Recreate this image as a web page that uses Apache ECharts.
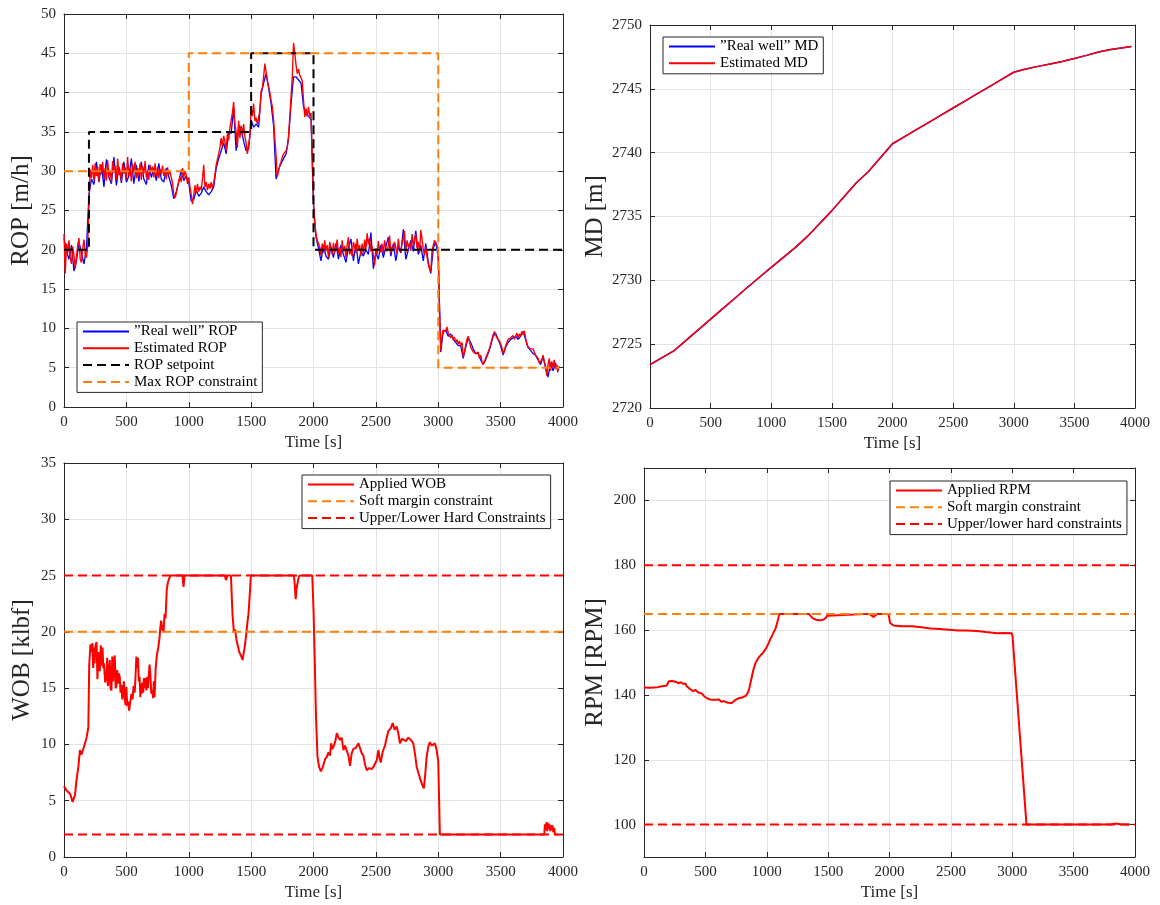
<!DOCTYPE html>
<html><head><meta charset="utf-8">
<script src="https://cdn.jsdelivr.net/npm/echarts@6/dist/echarts.min.js"></script>
<style>html,body{margin:0;padding:0;background:#fff}#c{width:1160px;height:905px}</style>
</head><body><div id="c"></div><script>
// ---------------- DATA ----------------
// ROP estimated (red), sampled every 10 s from t = 0
const ROP_EST_DT = 10;
const ropEst = [
22.0,17.0,20.8,19.6,21.2,19.0,18.2,20.4,19.3,17.6,
19.2,20.6,21.5,18.8,18.4,20.2,21.3,19.4,19.0,20.5,
26.0,30.2,29.1,30.8,28.9,31.0,29.4,30.6,28.7,30.9,
29.6,31.2,29.0,30.4,28.8,31.4,29.3,30.1,28.6,31.3,
29.8,30.7,28.9,31.6,29.5,30.2,28.8,31.0,29.7,30.5,
29.0,31.8,29.4,30.3,28.7,30.9,29.8,31.2,29.1,30.4,
29.5,31.0,28.9,30.6,29.7,31.3,29.2,30.0,28.9,30.8,
29.9,30.6,29.2,31.0,29.4,30.5,29.1,30.3,29.6,30.7,
29.4,30.2,29.0,30.5,29.6,29.9,29.2,28.5,27.0,26.6,
27.2,28.0,28.8,29.3,28.6,30.4,29.2,30.0,29.5,28.4,
29.2,28.0,27.0,25.8,27.0,28.2,27.2,28.4,27.4,28.0,
27.6,29.0,30.8,28.0,28.6,27.6,28.4,27.8,28.6,27.8,
28.5,29.6,30.8,31.5,32.2,33.0,34.2,33.2,34.5,33.8,
32.6,34.8,33.9,35.5,36.5,37.5,38.8,36.0,35.0,33.0,
36.4,34.2,35.8,34.6,36.0,34.4,33.6,32.2,33.4,34.4,
38.0,37.0,38.6,36.4,36.8,36.0,36.2,37.6,40.2,40.6,
42.0,43.7,42.6,41.6,40.8,40.0,39.0,38.2,36.5,34.2,
32.0,29.3,30.0,30.8,31.2,31.8,32.2,32.0,32.6,33.0,
34.5,36.9,39.5,42.0,46.3,45.0,43.5,42.4,43.0,42.2,
42.0,41.5,39.0,36.9,38.0,37.0,38.2,37.0,37.4,32.0,
26.0,23.5,22.0,21.2,21.0,20.4,19.3,20.8,19.6,21.2,
19.8,20.6,19.0,21.0,20.2,19.4,20.9,19.6,20.4,21.3,
19.5,20.3,19.1,21.2,19.8,20.5,19.0,20.7,21.6,19.4,
20.1,19.2,21.0,20.3,19.6,21.4,19.9,20.6,19.2,20.8,
19.5,21.3,20.0,22.1,20.7,21.5,19.8,20.4,19.3,18.0,
20.2,19.4,21.1,20.0,19.7,20.8,19.5,21.2,20.3,19.8,
20.6,21.8,19.6,20.4,19.9,21.0,20.2,19.5,21.4,20.1,
19.7,20.9,21.5,22.4,19.6,21.2,20.4,20.8,19.9,22.0,
20.5,21.3,22.0,20.2,21.0,19.6,22.5,21.4,20.0,19.4,
20.3,19.1,18.2,17.6,17.2,19.8,20.6,21.2,21.0,20.5,
20.0,12.5,7.2,9.0,9.8,10.0,9.6,10.2,9.4,9.2,
8.8,9.2,8.6,8.9,8.2,8.6,8.0,8.4,7.8,8.2,
6.4,7.0,7.8,8.6,9.0,8.4,7.6,7.8,7.0,7.2,
6.8,6.6,7.0,6.2,6.6,5.8,5.4,5.6,6.2,6.6,
7.0,7.4,8.0,8.6,9.2,9.6,9.2,8.8,9.0,8.4,
8.2,7.6,6.8,7.2,7.8,8.2,8.6,8.4,8.8,9.0,
9.1,8.6,9.0,9.4,8.8,9.3,9.0,9.6,9.2,9.7,
8.8,8.0,7.6,7.8,7.4,7.2,7.4,7.0,6.6,6.8,
6.2,5.6,5.5,6.0,6.6,5.8,5.2,4.0,5.4,6.2,
4.6,5.8,5.0,6.0,4.8,5.4,4.6,5.2
];
// ROP "real well" (blue), sampled every 20 s from t = 0
const ROP_REAL_DT = 20;
const ropReal = [
21.5,19.8,18.8,20.6,17.3,18.6,21.0,19.6,18.2,20.2,
27.0,29.0,28.3,31.2,28.6,30.8,28.0,31.5,29.2,28.4,
31.8,28.2,30.6,28.5,31.2,28.6,29.4,31.6,28.4,30.8,
28.7,31.2,29.0,28.3,30.8,29.2,30.4,28.8,31.0,29.0,
28.6,30.4,29.3,28.2,26.5,27.4,28.6,30.2,28.8,29.4,
28.5,26.2,26.4,27.6,26.8,27.2,28.0,27.4,27.0,27.4,
28.0,30.4,31.6,32.6,33.6,32.2,35.0,34.8,38.0,32.6,
35.8,35.4,33.8,32.6,32.8,36.5,35.6,36.0,35.6,39.8,
41.2,42.4,40.6,38.6,35.8,29.0,30.2,31.0,31.6,32.2,
34.2,38.6,42.0,42.0,41.6,41.2,38.2,37.2,37.0,36.6,
25.6,21.6,20.2,18.6,20.6,19.2,18.8,20.4,19.0,20.8,
18.8,20.6,19.4,18.4,20.2,21.4,18.6,20.8,18.2,19.8,
19.2,20.0,19.4,22.2,17.6,19.6,18.8,20.6,19.0,20.4,
21.6,19.2,20.8,18.6,20.4,19.6,22.6,18.8,20.0,21.2,
19.8,22.4,19.4,20.6,18.6,20.8,18.4,17.0,20.2,21.0,
19.0,7.0,9.6,9.8,9.0,9.3,8.6,8.2,7.8,7.8,
6.2,7.6,8.8,8.2,7.4,6.8,6.8,6.0,5.4,6.0,
6.8,7.8,9.0,9.4,8.6,7.8,6.6,7.6,8.2,8.6,
8.8,9.0,8.6,9.0,9.6,8.6,7.6,7.2,6.8,6.6,
6.0,5.4,6.4,5.0,3.8,5.6,4.6,5.6,4.4
];
const ropSetpointT = [0,200,200,1500,1500,2000,2000,4000];
const ropSetpointV = [20,20,35,35,45,45,20,20];
const ropMaxT = [0,1000,1000,3000,3000,3970];
const ropMaxV = [30,30,45,45,5,5];

// Measured depth
const mdT = [0,100,200,300,400,500,600,700,800,900,1000,1100,1200,1300,1400,1500,1600,1700,1800,1900,2000,
  2100,2200,2300,2400,2500,2600,2700,2800,2900,3000,3100,3200,3300,3400,3500,3600,3700,3800,3900,3970];
const mdReal = [2723.40,2723.95,2724.50,2725.32,2726.14,2726.96,2727.78,2728.60,2729.42,2730.22,2731.02,
  2731.80,2732.58,2733.46,2734.45,2735.46,2736.54,2737.62,2738.50,2739.60,2740.70,
  2741.26,2741.82,2742.38,2742.94,2743.50,2744.06,2744.62,2745.18,2745.74,2746.30,
  2746.55,2746.76,2746.95,2747.14,2747.38,2747.62,2747.88,2748.08,2748.22,2748.32];
const mdEst = [2723.40,2723.95,2724.50,2725.32,2726.14,2726.96,2727.78,2728.60,2729.42,2730.22,2731.02,
  2731.80,2732.58,2733.46,2734.45,2735.46,2736.54,2737.62,2738.50,2739.60,2740.70,
  2741.26,2741.82,2742.38,2742.94,2743.50,2744.06,2744.62,2745.18,2745.74,2746.30,
  2746.55,2746.76,2746.95,2747.14,2747.38,2747.62,2747.88,2748.08,2748.22,2748.32];

// Applied WOB
const wobT = [0,20,35,50,69,88,100,115,128,141,160,181,195,202,212,221,228,234,240,245,252,261,268,275,282,287,295,300,309,315,320,330,340,346,352,360,367,373,380,387,394,400,407,414,420,427,433,440,447,453,460,467,473,480,487,493,500,507,515,522,532,540,550,558,567,575,580,587,593,600,606,612,617,622,628,635,641,648,654,660,667,673,680,686,692,700,708,714,720,726,735,745,756,766,772,779,788,798,806,814,824,833,845,854,950,958,966,1290,1298,1310,1338,1351,1362,1372,1382,1391,1405,1418,1431,1445,1458,1470,1479,1490,1498,1843,1850,1857,1864,1870,1880,1889,1990,2000,2010,2020,2032,2045,2059,2075,2093,2107,2120,2132,2141,2150,2160,2173,2187,2200,2213,2226,2240,2253,2267,2280,2293,2306,2320,2340,2360,2374,2387,2400,2413,2427,2447,2467,2480,2493,2507,2520,2530,2539,2556,2573,2587,2600,2618,2635,2650,2667,2680,2693,2710,2725,2742,2760,2780,2800,2813,2827,2843,2859,2872,2885,2896,2907,2920,2933,2947,2960,2973,2987,3000,3013,3850,3855,3862,3868,3874,3880,3886,3892,3898,3904,3910,3916,3922,3930,3935,3960];
const wobV = [6.3,5.9,6.0,5.6,4.9,5.5,6.8,8.0,9.5,9.1,9.8,10.6,11.5,17.0,18.9,18.2,19.0,16.8,18.6,17.2,18.7,19.1,15.8,18.2,17.6,16.5,18.8,17.0,18.6,16.8,17.2,15.5,16.0,17.7,15.2,16.2,17.5,15.0,14.8,17.8,15.6,17.3,17.9,15.0,15.2,16.6,15.4,16.3,16.0,14.6,15.3,14.0,14.5,15.6,14.1,13.5,15.1,13.4,13.8,13.0,13.1,14.5,14.0,15.2,14.6,16.5,17.8,16.8,17.7,15.6,16.0,14.2,15.4,14.5,15.5,14.6,15.9,15.0,15.9,14.8,16.0,15.0,16.2,17.1,16.3,14.5,14.8,14.1,15.6,14.2,16.8,18.0,18.6,19.5,20.4,21.0,20.2,20.0,21.6,21.2,23.8,24.4,24.8,25.0,25.0,24.0,25.0,25.0,24.6,25.0,25.0,21.5,20.0,20.2,19.3,18.9,18.2,17.9,17.5,18.4,19.5,20.8,21.6,23.5,25.0,25.0,24.2,22.9,23.8,24.2,24.8,25.0,25.0,22.0,17.5,12.5,8.9,8.0,7.6,8.0,8.7,8.9,9.3,9.0,10.1,9.6,9.8,10.2,11.0,10.6,10.4,10.6,9.5,9.9,9.8,9.0,8.1,9.2,9.6,9.7,10.1,10.0,9.2,9.0,8.2,7.7,7.9,7.8,8.0,8.0,8.6,9.5,8.8,8.4,9.4,9.9,10.6,11.2,11.4,11.9,11.3,11.6,11.0,10.1,10.5,10.6,10.3,10.6,10.4,10.1,9.2,8.0,7.4,6.8,6.4,6.1,7.4,8.9,9.8,10.2,9.9,9.8,10.1,9.5,8.5,2.0,2.0,2.9,2.4,3.1,2.3,3.0,2.5,2.9,2.3,2.8,2.4,2.8,2.2,2.6,2.0,2.0];
const wobSoft = 20;
const wobHardUpper = 25;
const wobHardLower = 2;

// Applied RPM
const rpmT = [0,50,111,150,186,201,215,230,245,261,280,300,320,337,350,365,382,400,420,440,455,472,490,505,517,535,550,565,580,592,610,630,650,667,685,700,715,727,740,755,772,785,800,815,832,850,862,875,890,908,925,940,953,970,985,998,1015,1030,1043,1060,1073,1090,1103,1343,1355,1373,1400,1433,1460,1478,1492,1500,1839,1850,1869,1885,1899,1989,1996,2004,2020,2034,2100,2185,2260,2335,2410,2485,2560,2635,2710,2786,2840,2876,2930,2996,3002,3116,3800,3850,3880,3958];
const rpmV = [142.3,142.2,142.4,142.7,142.9,144.2,143.6,144.3,143.8,144.0,143.6,143.9,143.4,143.5,142.6,142.2,141.6,141.2,141.5,140.8,140.9,140.4,139.6,139.2,138.9,138.6,139.0,138.5,138.9,138.5,138.6,137.9,138.1,137.8,137.6,137.9,137.5,137.6,138.3,138.6,139.0,139.4,139.2,139.4,139.8,141.0,142.7,145.0,147.6,149.8,151.0,151.8,152.2,153.0,153.8,154.6,156.0,157.3,158.2,159.6,160.6,163.0,165.0,165.0,164.4,163.7,163.2,163.0,163.2,163.7,164.4,165.0,165.0,164.4,164.0,164.6,165.0,165.0,164.2,162.2,161.6,161.4,161.2,161.2,160.9,160.5,160.3,160.1,159.9,159.9,159.7,159.4,159.2,159.0,159.1,159.0,158.2,100.0,100.0,100.3,100.1,100.0];
const rpmSoft = 165;
const rpmHardUpper = 180;
const rpmHardLower = 100;

// Axis settings
const timeMin = 0, timeMax = 4000, timeStep = 500;

// ---------------- CHART ----------------
const FONT = 'Liberation Serif';
const AX = '#262626';
const GRIDC = '#e3e3e3';
const ORANGE = '#ff7f0e';
const DASH = [9, 5];
const plain = v => String(v);

function pairs(ts, vs){ return ts.map((t,i)=>[t, vs[i]]); }
function regular(dt, vs){ return vs.map((v,i)=>[i*dt, v]); }
function hline(v, t0, t1){ return [[t0, v],[t1, v]]; }

const grids = [
  {left:64, top:14, width:499, height:393},
  {left:650, top:25, width:485, height:383},
  {left:64, top:463, width:499, height:394},
  {left:644, top:468, width:491, height:389}
];

const xAxis = [], yAxis = [];
grids.forEach((g, gi)=>{
  xAxis.push({type:'value', gridIndex:gi, min:timeMin, max:timeMax, interval:timeStep, position:'bottom',
    name:'Time [s]', nameLocation:'middle', nameGap:27,
    nameTextStyle:{fontFamily:FONT, fontSize:17, color:AX},
    axisLine:{show:true, onZero:false, lineStyle:{color:AX, width:1}},
    axisTick:{show:true, inside:true, length:5, lineStyle:{color:AX}},
    axisLabel:{margin:8, fontFamily:FONT, fontSize:15, color:AX, formatter:plain},
    splitLine:{show:true, lineStyle:{color:GRIDC, width:1}}});
  xAxis.push({type:'value', gridIndex:gi, min:timeMin, max:timeMax, interval:timeStep, position:'top',
    axisLine:{show:true, onZero:false, lineStyle:{color:AX, width:1}},
    axisTick:{show:true, inside:true, length:5, lineStyle:{color:AX}},
    axisLabel:{show:false}, splitLine:{show:false}});
});

const yDefs = [
  {min:0, max:50, interval:5, name:'ROP [m/h]', gap:30},
  {min:2720, max:2750, interval:5, name:'MD [m]', gap:41},
  {min:0, max:35, interval:5, name:'WOB [klbf]', gap:29},
  {min:90, max:210, name:'RPM [RPM]', gap:36}
];
yDefs.forEach((d, gi)=>{
  const base = {type:'value', gridIndex:gi, min:d.min, max:d.max};
  if (d.interval) base.interval = d.interval;
  yAxis.push(Object.assign({}, base, {position:'left',
    name:d.name, nameLocation:'middle', nameGap:d.gap, nameRotate:90,
    nameTextStyle:{fontFamily:FONT, fontSize:25, color:AX},
    axisLine:{show:true, onZero:false, lineStyle:{color:AX, width:1}},
    axisTick:{show:true, inside:true, length:5, lineStyle:{color:AX}},
    axisLabel:{margin:8, fontFamily:FONT, fontSize:15, color:AX, formatter:plain,
      showMinLabel: gi!==3, showMaxLabel: gi!==3},
    splitLine:{show:true, lineStyle:{color:GRIDC, width:1}}}));
  yAxis.push(Object.assign({}, base, {position:'right',
    axisLine:{show:true, onZero:false, lineStyle:{color:AX, width:1}},
    axisTick:{show:true, inside:true, length:5, lineStyle:{color:AX}},
    axisLabel:{show:false}, splitLine:{show:false}}));
});

function line(gi, name, data, color, width, dashed, z){
  return {type:'line', name, data, xAxisIndex:2*gi, yAxisIndex:2*gi,
    symbol:'none', showSymbol:false, animation:false, silent:true, z: z||2,
    lineStyle:{color, width, type: dashed ? DASH : 'solid'}, itemStyle:{color}};
}

const series = [
  line(0, '”Real well” ROP', regular(ROP_REAL_DT, ropReal), '#0000ff', 1.3, false, 2),
  line(0, 'Estimated ROP', regular(ROP_EST_DT, ropEst), '#ff0000', 1.4, false, 3),
  line(0, 'ROP setpoint', pairs(ropSetpointT, ropSetpointV), '#000000', 2, true, 4),
  line(0, 'Max ROP constraint', pairs(ropMaxT, ropMaxV), ORANGE, 2, true, 5),

  line(1, '”Real well” MD', pairs(mdT, mdReal), '#0000ff', 1.5, false, 2),
  line(1, 'Estimated MD', pairs(mdT, mdEst), '#ff0000', 1.5, false, 3),

  line(2, 'Applied WOB', pairs(wobT, wobV), '#ff0000', 2, false, 2),
  line(2, 'Soft margin constraint', hline(wobSoft, timeMin, timeMax), ORANGE, 2, true, 3),
  line(2, 'Upper/Lower Hard Constraints', hline(wobHardUpper, timeMin, timeMax), '#ff0000', 2, true, 4),
  line(2, 'Upper/Lower Hard Constraints', hline(wobHardLower, timeMin, timeMax), '#ff0000', 2, true, 4),

  line(3, 'Applied RPM', pairs(rpmT, rpmV), '#ff0000', 2, false, 2),
  line(3, 'Soft margin constraint', hline(rpmSoft, timeMin, timeMax), ORANGE, 2, true, 3),
  line(3, 'Upper/lower hard constraints', hline(rpmHardUpper, timeMin, timeMax), '#ff0000', 2, true, 4),
  line(3, 'Upper/lower hard constraints', hline(rpmHardLower, timeMin, timeMax), '#ff0000', 2, true, 4)
];

function legend(left, top, data){
  return {left, top, orient:'vertical', data, selectedMode:false,
    itemWidth:46, itemHeight:12, itemGap:1.8,
    itemStyle:{opacity:0},
    padding:[2,5,3,5], backgroundColor:'#ffffff', borderColor:AX, borderWidth:1, borderRadius:0,
    textStyle:{fontFamily:FONT, fontSize:15, lineHeight:15, color:'#000'}};
}

const option = {
  backgroundColor:'#ffffff',
  animation:false,
  grid: grids.map(g=>Object.assign({containLabel:false}, g)),
  xAxis, yAxis, series,
  legend: [
    legend(77, 322, ['”Real well” ROP','Estimated ROP','ROP setpoint','Max ROP constraint']),
    legend(663, 37, ['”Real well” MD','Estimated MD']),
    legend(302, 475, ['Applied WOB','Soft margin constraint','Upper/Lower Hard Constraints']),
    legend(890, 481, ['Applied RPM','Soft margin constraint','Upper/lower hard constraints'])
  ]
};
const chart = echarts.init(document.getElementById('c'), null, {renderer:'canvas'});
chart.setOption(option);
</script></body></html>
